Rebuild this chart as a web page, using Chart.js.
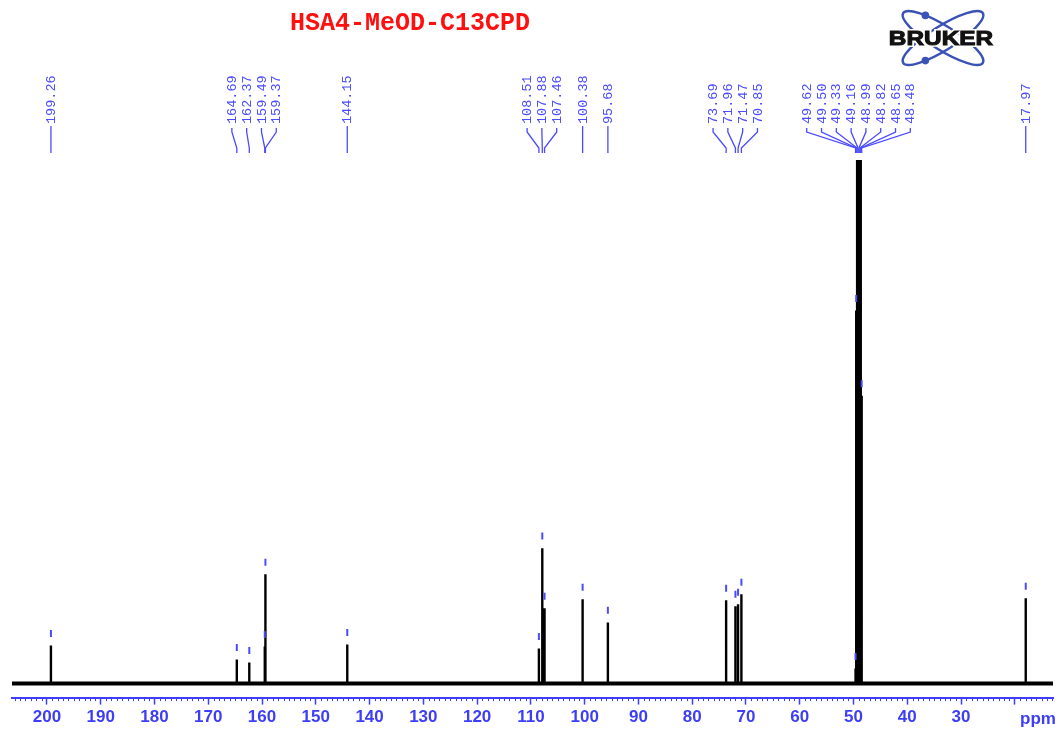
<!DOCTYPE html>
<html>
<head>
<meta charset="utf-8">
<title>HSA4-MeOD-C13CPD</title>
<script src="https://cdn.jsdelivr.net/npm/chart.js@4.4.0/dist/chart.umd.min.js"></script>
<style>
  html, body { margin: 0; padding: 0; background: #fff; }
  #wrap { width: 1059px; height: 731px; }
</style>
</head>
<body>
<div id="wrap"><canvas id="spec" width="1059" height="731"></canvas></div>
<script>
// picked peaks (ppm) and their heights above the baseline
var peakPpm = [199.26, 164.69, 162.37, 159.49, 159.37, 144.15,
               108.51, 107.88, 107.46, 100.38, 95.68,
               73.69, 71.96, 71.47, 70.85,
               49.62, 49.50, 49.33, 49.16, 48.99, 48.82, 48.65, 48.48,
               17.97];
var peakHeight = [38, 24, 21, 37, 109, 39,
                  35, 135, 75, 84, 61,
                  83, 77, 79, 89,
                  15, 372, 1120, 2240, 2610, 2240, 1120, 287,
                  85];
var ppmRange = [206.5, 12.9];
var majorTicks = [200, 190, 180, 170, 160, 150, 140, 130, 120, 110, 100, 90, 80, 70, 60, 50, 40, 30, 20];
var axisUnit = 'ppm';
var title = 'HSA4-MeOD-C13CPD';

var BLUE = '#3d3dfa';
var LABEL_BLUE = '#4a4aff';

var spectrum = [{x: ppmRange[0], y: 0}];
peakPpm.forEach(function(p, i) {
  spectrum.push({x: p, y: 0}, {x: p, y: peakHeight[i]}, {x: p, y: 0});
});
spectrum.push({x: ppmRange[1], y: 0});

// little blue marks sitting just over each peak top
var markGap = 12;
var marks = peakPpm.map(function(p, i) { return {x: p, y: peakHeight[i] + markGap}; });

var baseline = [{x: ppmRange[0], y: 0}, {x: ppmRange[1], y: 0}];

function drawLogo(ctx, cx, cy) {
  var a = 47, b = 12, th = 32 * Math.PI / 180;
  ctx.save();
  ctx.strokeStyle = '#3a52b6';
  ctx.fillStyle = '#3a52b6';
  ctx.lineWidth = 2.4;
  [th, -th].forEach(function(r, k) {
    ctx.beginPath();
    ctx.ellipse(cx, cy, a, b, r, 0, Math.PI * 2);
    ctx.stroke();
    var t = (k === 0 ? -125 : 125) * Math.PI / 180;
    var ex = a * Math.cos(t), ey = b * Math.sin(t);
    var dx = ex * Math.cos(r) - ey * Math.sin(r);
    var dy = ex * Math.sin(r) + ey * Math.cos(r);
    ctx.beginPath();
    ctx.arc(cx + dx, cy + dy, 3.8, 0, Math.PI * 2);
    ctx.fill();
  });
  ctx.translate(cx - 2, cy + 1);
  ctx.scale(1.22, 1);
  ctx.font = 'bold 20px "Liberation Sans", Arial, sans-serif';
  ctx.textAlign = 'center';
  ctx.textBaseline = 'middle';
  ctx.lineWidth = 4;
  ctx.strokeStyle = '#fff';
  ctx.strokeText('BRUKER', 0, 0);
  ctx.lineWidth = 1;
  ctx.strokeStyle = '#111';
  ctx.strokeText('BRUKER', 0, 0);
  ctx.fillStyle = '#111';
  ctx.fillText('BRUKER', 0, 0);
  ctx.restore();
}

var decorations = {
  id: 'decorations',
  afterDraw: function(chart) {
    var ctx = chart.ctx;
    var xs = chart.scales.x;
    var area = chart.chartArea;

    // minor ticks every 1 ppm
    ctx.save();
    ctx.strokeStyle = BLUE;
    ctx.lineWidth = 1;
    for (var v = Math.ceil(ppmRange[1]); v <= ppmRange[0]; v++) {
      if (v % 10 === 0) continue;
      var px = Math.round(xs.getPixelForValue(v)) + 0.5;
      ctx.beginPath();
      ctx.moveTo(px, area.bottom);
      ctx.lineTo(px, area.bottom + 3.5);
      ctx.stroke();
    }
    // unit at the right end of the axis
    ctx.fillStyle = BLUE;
    ctx.font = 'bold 17px "Liberation Sans", Arial, sans-serif';
    ctx.textAlign = 'center';
    ctx.textBaseline = 'middle';
    ctx.fillText(axisUnit, 1038, 719);
    ctx.restore();

    // peak labels with leader lines, crowded ones fanned out
    var step = 14.8;
    var pts = peakPpm.map(function(p) {
      return {label: p.toFixed(2), px: xs.getPixelForValue(p)};
    });
    var groups = [], cur = [pts[0]];
    for (var i = 1; i < pts.length; i++) {
      if (pts[i].px - pts[i - 1].px < 20) cur.push(pts[i]);
      else { groups.push(cur); cur = [pts[i]]; }
    }
    groups.push(cur);

    ctx.save();
    ctx.strokeStyle = LABEL_BLUE;
    ctx.fillStyle = LABEL_BLUE;
    ctx.lineWidth = 1.3;
    ctx.font = '13.5px "Liberation Mono", "Courier New", monospace';
    groups.forEach(function(g) {
      var mean = 0;
      g.forEach(function(p) { mean += p.px; });
      mean /= g.length;
      g.forEach(function(p, k) {
        var lx = g.length === 1 ? p.px : mean + (k - (g.length - 1) / 2) * step;
        ctx.beginPath();
        if (g.length === 1) {
          ctx.moveTo(lx, 126);
          ctx.lineTo(lx, 153);
        } else {
          ctx.moveTo(lx, 128);
          ctx.lineTo(lx, 132);
          ctx.lineTo(p.px, 148);
          ctx.lineTo(p.px, 153);
        }
        ctx.stroke();
        ctx.save();
        ctx.translate(lx + 0.5, 124);
        ctx.rotate(-Math.PI / 2);
        ctx.textAlign = 'left';
        ctx.textBaseline = 'middle';
        ctx.fillText(p.label, 0, 0);
        ctx.restore();
      });
    });
    ctx.restore();

    // title
    ctx.save();
    ctx.fillStyle = '#ff1010';
    ctx.font = 'bold 25px "Liberation Mono", "Courier New", monospace';
    ctx.textAlign = 'center';
    ctx.textBaseline = 'middle';
    ctx.fillText(title, 410, 24);
    ctx.restore();

    drawLogo(ctx, 943, 38);
  }
};

var chart = new Chart(document.getElementById('spec').getContext('2d'), {
  type: 'scatter',
  data: {
    datasets: [{
      data: marks,
      showLine: false,
      pointStyle: 'line',
      pointRotation: 90,
      pointRadius: 3.5,
      pointBorderWidth: 2,
      pointBorderColor: LABEL_BLUE,
      pointBackgroundColor: LABEL_BLUE
    }, {
      data: spectrum,
      showLine: true,
      borderColor: '#000',
      borderWidth: 2.4,
      pointRadius: 0,
      tension: 0
    }, {
      data: baseline,
      showLine: true,
      borderColor: '#000',
      borderWidth: 4,
      pointRadius: 0
    }]
  },
  options: {
    responsive: false,
    animation: false,
    devicePixelRatio: 1,
    layout: { padding: { left: 12, right: 4, top: 160, bottom: 0 } },
    plugins: { legend: { display: false }, tooltip: { enabled: false } },
    scales: {
      x: {
        type: 'linear',
        reverse: true,
        min: ppmRange[1],
        max: ppmRange[0],
        afterBuildTicks: function(scale) {
          scale.ticks = majorTicks.map(function(v) { return {value: v}; });
        },
        // keep the plot edge where the padding says, not where labels push it
        afterFit: function(scale) {
          scale.paddingLeft = 0;
          scale.paddingRight = 0;
        },
        grid: {
          drawOnChartArea: false,
          drawTicks: true,
          tickLength: 7,
          tickColor: BLUE,
          tickWidth: 1.5
        },
        border: { display: true, color: BLUE, width: 2 },
        ticks: {
          color: BLUE,
          padding: 3,
          autoSkip: false,
          maxRotation: 0,
          font: { family: '"Liberation Sans", Arial, sans-serif', size: 17, weight: 'bold' },
          callback: function(v, idx, ticks) {
            return idx === ticks.length - 1 ? '' : v;
          }
        }
      },
      y: { display: false, min: -14, max: 522 }
    }
  },
  plugins: [decorations]
});
</script>
</body>
</html>
